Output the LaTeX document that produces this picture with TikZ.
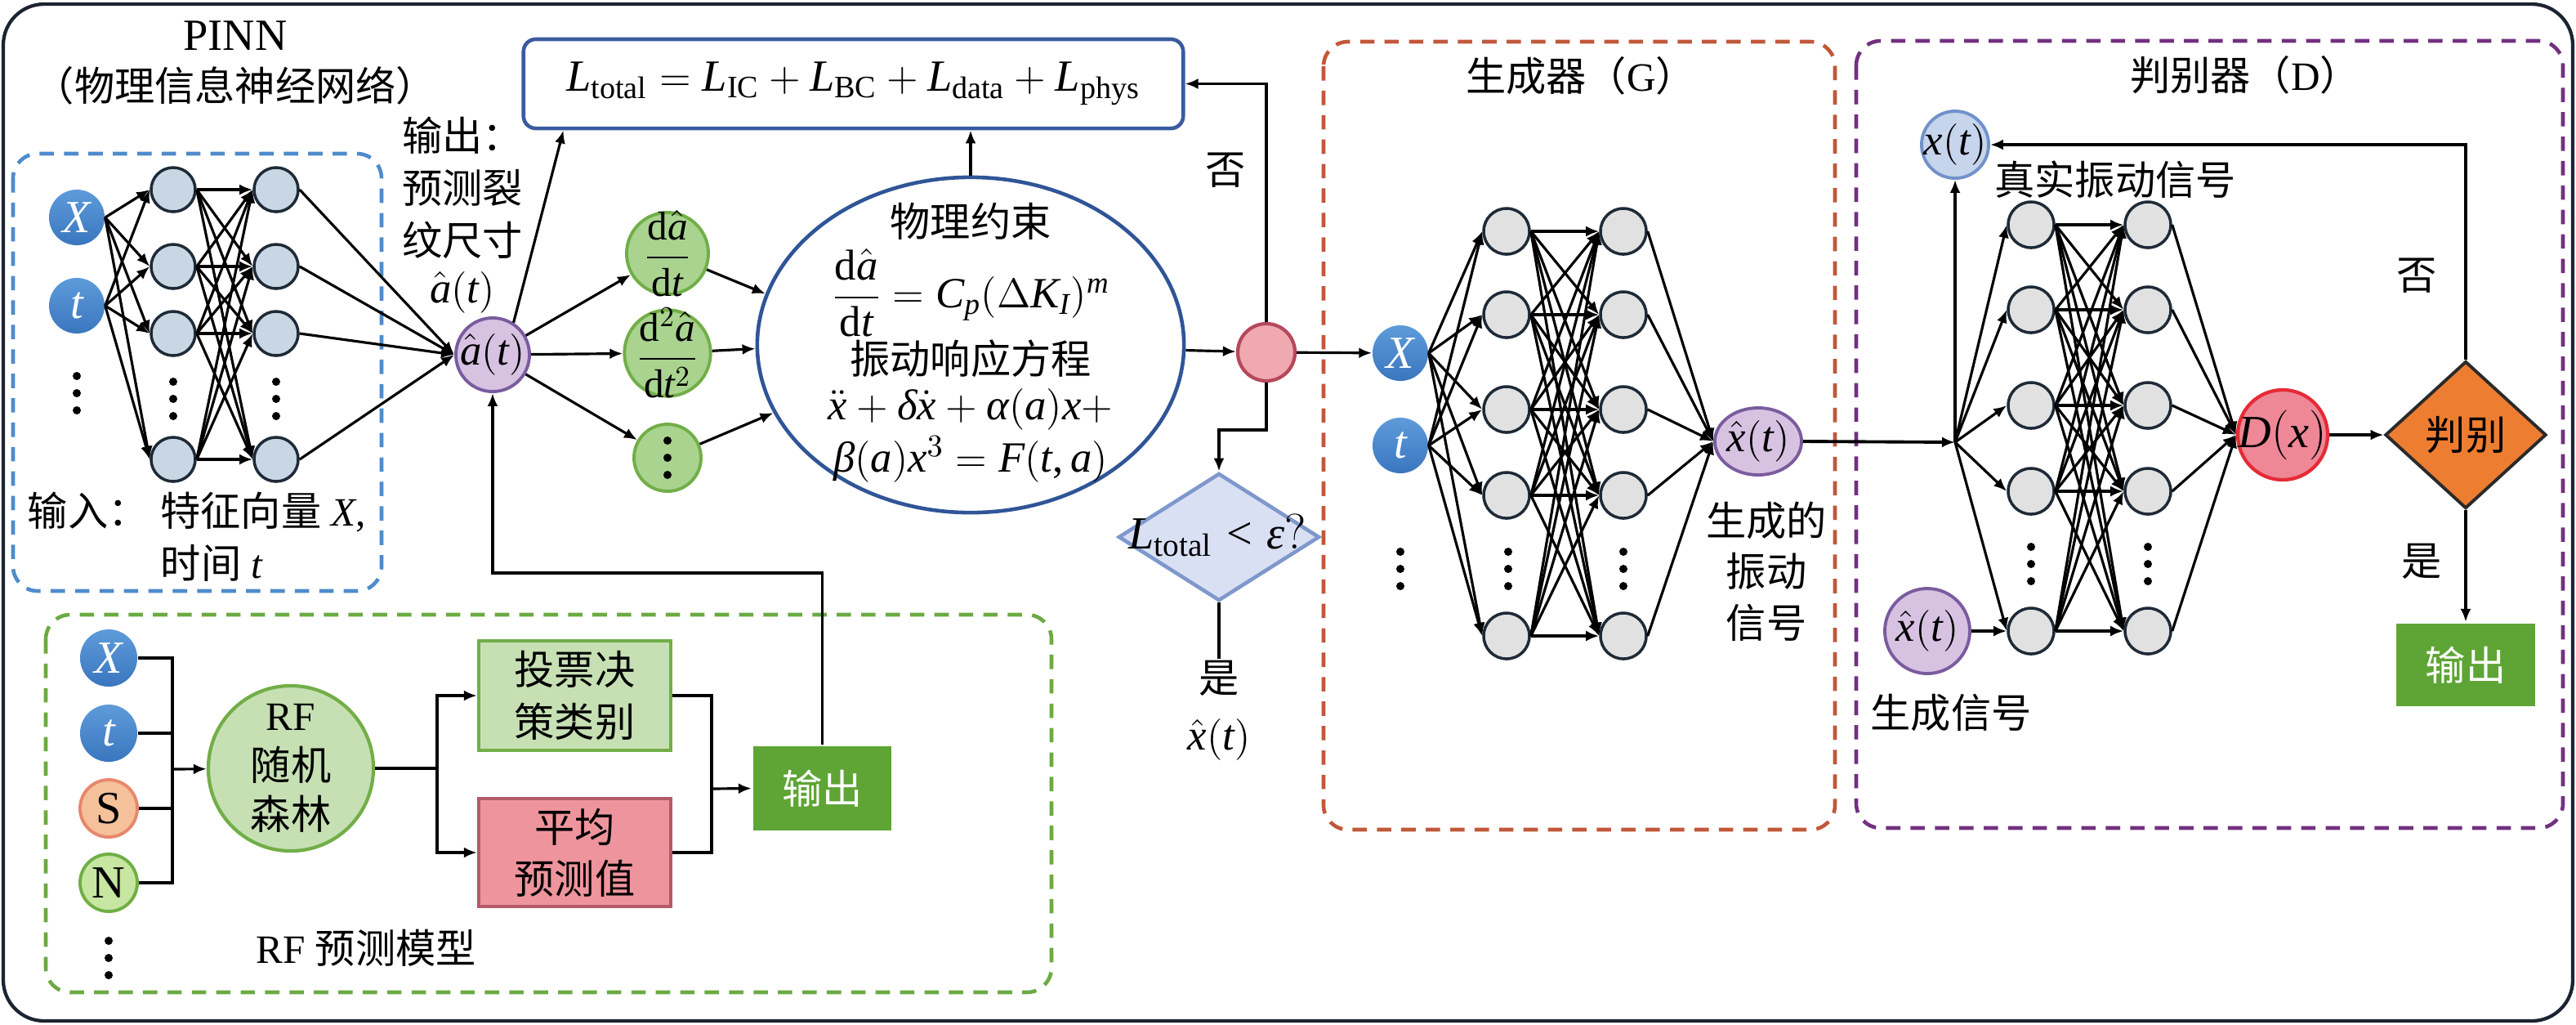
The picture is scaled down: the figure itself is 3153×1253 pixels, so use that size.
\documentclass[tikz,border=0pt]{standalone}
\usepackage{amsmath}
\usepackage{fontspec}
\setmainfont{Liberation Serif}
\newfontfamily\cjk{Noto Sans CJK SC}
\DeclareSymbolFont{lsit}{TU}{\rmdefault}{m}{it}
\DeclareSymbolFont{lsup}{TU}{\rmdefault}{m}{n}
\newcommand\mathletter[1]{\DeclareMathSymbol{#1}{\mathalpha}{lsit}{`#1}}
\mathletter{a}\mathletter{t}\mathletter{x}\mathletter{m}\mathletter{p}
\mathletter{L}\mathletter{X}\mathletter{C}\mathletter{K}\mathletter{I}
\mathletter{F}\mathletter{D}
\DeclareMathSymbol{2}{\mathalpha}{lsup}{`2}
\DeclareMathSymbol{3}{\mathalpha}{lsup}{`3}
\DeclareMathSymbol{(}{\mathopen}{lsup}{`(}
\DeclareMathSymbol{)}{\mathclose}{lsup}{`)}
\DeclareMathSymbol{+}{\mathbin}{lsup}{`+}
\DeclareMathSymbol{=}{\mathrel}{lsup}{`=}
\DeclareMathSymbol{<}{\mathrel}{lsup}{`<}
\DeclareMathSymbol{,}{\mathpunct}{lsup}{`,}
\DeclareMathSymbol{?}{\mathclose}{lsup}{`?}
\Umathchardef\alpha="0 \symlsit "03B1
\Umathchardef\beta="0 \symlsit "03B2
\Umathchardef\delta="0 \symlsit "03B4
\Umathchardef\varepsilon="0 \symlsit "03B5
\Umathchardef\Delta="0 \symlsup "0394
\usetikzlibrary{arrows.meta,shapes.geometric,calc}
\definecolor{inbluetop}{HTML}{5E9BDA}
\definecolor{inbluebot}{HTML}{3A76BE}
\definecolor{hidpinn}{HTML}{C9D7E5}
\definecolor{hidborder}{HTML}{1F2A37}
\definecolor{hidgray}{HTML}{E1E1E1}
\definecolor{purpfill}{HTML}{D7C2E2}
\definecolor{purpdraw}{HTML}{7A5C9E}
\definecolor{dgfill}{HTML}{A9D38F}
\definecolor{dgdraw}{HTML}{72AE48}
\definecolor{pinkfill}{HTML}{F0A8B1}
\definecolor{pinkdraw}{HTML}{B5485B}
\definecolor{diafill}{HTML}{DAE0F3}
\definecolor{diadraw}{HTML}{7E98CC}
\definecolor{rffill}{HTML}{C6E0B4}
\definecolor{rfdraw}{HTML}{72AE48}
\definecolor{meanfill}{HTML}{EE949D}
\definecolor{meandraw}{HTML}{B35B69}
\definecolor{outgreen}{HTML}{5EA535}
\definecolor{sfill}{HTML}{F4C19B}
\definecolor{sdraw}{HTML}{E8876B}
\definecolor{nfill}{HTML}{C6E6A2}
\definecolor{ndraw}{HTML}{6FAF45}
\definecolor{bluedash}{HTML}{4E8BCB}
\definecolor{greendash}{HTML}{6BAA43}
\definecolor{reddash}{HTML}{C0583A}
\definecolor{purpdash}{HTML}{72307F}
\definecolor{ltotdraw}{HTML}{3B5BA0}
\definecolor{physdraw}{HTML}{2F5597}
\definecolor{xtfill}{HTML}{C6D4EC}
\definecolor{xtdraw}{HTML}{7191CA}
\definecolor{dxfill}{HTML}{EE8796}
\definecolor{dxdraw}{HTML}{E52B36}
\definecolor{orangefill}{HTML}{ED7D31}
\definecolor{orangedraw}{HTML}{2A2A2A}
\definecolor{framecol}{HTML}{1C2433}
\newcommand\threedots[2]{%
  \fill (#1,#2-21) circle [radius=0.05cm];
  \fill (#1,#2) circle [radius=0.05cm];
  \fill (#1,#2+21) circle [radius=0.05cm];}
\begin{document}
\begin{tikzpicture}[x=0.01cm,y=-0.01cm,
  every node/.style={font=\fontsize{14}{17}\selectfont, inner sep=0.5pt},
  arr/.style={-{Latex[length=1.6mm,width=1.3mm]}, line width=0.9pt},
  ln/.style={line width=0.9pt},
  dashbox/.style={line width=1.3pt, dash pattern=on 5pt off 3.5pt, rounded corners=0.3cm},
  hidA/.style={circle, draw=hidborder, fill=hidpinn, line width=1pt, minimum size=0.54cm, inner sep=0pt},
  hidB/.style={circle, draw=hidborder, fill=hidgray, line width=1pt, minimum size=0.56cm, inner sep=0pt},
  inp/.style={circle, top color=inbluetop, bottom color=inbluebot, draw=none, text=white, inner sep=0pt, font=\fontsize{16}{17}\selectfont},
  purp/.style={circle, draw=purpdraw, fill=purpfill, line width=1.1pt, inner sep=-2pt, font=\fontsize{15}{17}\selectfont},
  der/.style={circle, draw=dgdraw, fill=dgfill, line width=1.1pt, inner sep=-3pt, minimum size=1.0cm, font=\fontsize{14}{15}\selectfont},
  boxn/.style={rectangle, inner sep=0pt, line width=1.2pt, align=center, font=\fontsize{14}{18}\selectfont},
  mth/.style={font=\fontsize{15}{17}\selectfont},
]
\useasboundingbox (0,0) rectangle (3153,1253);
\draw[framecol, line width=1.2pt, rounded corners=0.5cm] (4,5) rectangle (3149,1249);

% dashed group frames
\draw[dashbox, bluedash] (16,188) rectangle (467,723);
\draw[dashbox, greendash] (56,752) rectangle (1287,1214);
\draw[dashbox, reddash] (1620,51) rectangle (2246,1015);
\draw[dashbox, purpdash] (2272,50) rectangle (3137,1013);

% ---------------- PINN ----------------
\node (pinn) at (288,44) {\fontsize{15.5}{17}\selectfont PINN};
\node (pinnzh) at (288,105) {\cjk （物理信息神经网络）};
\node[inp, minimum size=0.68cm] (X1) at (94,266) {$X$};
\node[inp, minimum size=0.68cm] (T1) at (94,374) {$t$};
\threedots{94}{481}
\foreach \n/\y in {a/232,b/326,c/408,d/562}{
  \node[hidA] (P1\n) at (212,\y) {};
  \node[hidA] (P2\n) at (338,\y) {};}
\threedots{212}{488}
\threedots{338}{488}
\node[purp, minimum size=0.9cm] (ahat) at (603,434) {$\hat{a}(t)$};
\foreach \n in {a,b,c,d}{
  \draw[arr] (X1.east) -- (P1\n.west);
  \draw[arr] (T1.east) -- (P1\n.west);
  \draw[arr] (P2\n.east) -- (ahat.west);
  \foreach \m in {a,b,c,d} \draw[arr] (P1\n.east) -- (P2\m.west);}
\node (inlab) at (241,627) {{\cjk 输入：}\hspace{0.3em}{\cjk 特征向量} $X$,};
\node (inlab2) at (259,689) {{\cjk 时间} $t$};
\node (o1) at (566,166) {\cjk 输出：};
\node (o2) at (566,230) {\cjk 预测裂};
\node (o3) at (566,294) {\cjk 纹尺寸};
\node[mth] (o4) at (566,358) {$\hat{a}(t)$};

% ---------------- loss & physics ----------------
\node[draw=ltotdraw, line width=1.3pt, rounded corners=0.15cm, minimum width=8.07cm, minimum height=1.09cm, font=\fontsize{15.5}{17}\selectfont] (Ltot) at (1044.5,102.5) {$L_{\mathrm{total}} = L_{\mathrm{IC}} + L_{\mathrm{BC}} + L_{\mathrm{data}} + L_{\mathrm{phys}}$};
\node[ellipse, draw=physdraw, line width=1.3pt, minimum width=5.22cm, minimum height=4.1cm, inner sep=0pt] (phys) at (1188,422) {};
\node (ph1) at (1188,271) {\cjk 物理约束};
\node[mth] (ph2) at (1188,358) {$\dfrac{\mathrm{d}\hat{a}}{\mathrm{d}t} = C_p(\Delta K_I)^m$};
\node (ph3) at (1188,439) {\cjk 振动响应方程};
\node[mth] (ph4) at (1188,501) {$\ddot{x}+\delta\dot{x}+\alpha(a)x+$};
\node[mth] (ph5) at (1188,562) {$\beta(a)x^3= F(t,a)$};
\node[der] (D1) at (817,310) {$\dfrac{\mathrm{d}\hat{a}}{\mathrm{d}t}$};
\node[der] (D2) at (817,432) {$\dfrac{\mathrm{d}^2\hat{a}}{\mathrm{d}t^2}$};
\node[der, minimum size=0.82cm, inner sep=0pt] (D3) at (817,560) {};
\threedots{817}{560}
\draw[arr] (ahat) -- (D1);
\draw[arr] (ahat) -- (D2);
\draw[arr] (ahat) -- (D3);
\draw[arr] (D1) -- (phys.166);
\draw[arr] (D2) -- (phys.181);
\draw[arr] (D3) -- (phys.199);
\draw[arr] (phys.north) -- (phys.north |- Ltot.south);
\draw[arr] (ahat.57) -- ($(Ltot.south west)!0.063!(Ltot.south east)$);

\node[circle, draw=pinkdraw, fill=pinkfill, line width=1.2pt, minimum size=0.7cm, inner sep=0pt] (pink) at (1550,431) {};
\draw[arr] (phys) -- (pink);
\draw[arr] (pink.north) |- (Ltot.east);
\node (no1) at (1500,208) {\cjk 否};
\node[diamond, draw=diadraw, fill=diafill, line width=1.3pt, minimum width=2.46cm, minimum height=1.56cm, inner sep=0pt] (dia) at (1492,657) {};
\node[font=\fontsize{16}{17}\selectfont] (diatext) at (1490,655) {$L_{\mathrm{total}} < \varepsilon?$};
\coordinate (pd) at (1492,526);
\draw[arr] (pink.south) |- (pd) -- (dia.north);
\node (yes1) at (1492,830) {\cjk 是};
\draw[ln] (dia.south) -- (yes1.north);
\node[mth] (xhat1) at (1492,905) {$\hat{x}(t)$};

% ---------------- RF ----------------
\node[inp, minimum size=0.7cm] (RX) at (133,805) {$X$};
\node[inp, minimum size=0.7cm] (RT) at (133,897) {$t$};
\node[circle, draw=sdraw, fill=sfill, line width=1.1pt, minimum size=0.7cm, inner sep=0pt, font=\fontsize{16}{17}\selectfont] (RS) at (133,989) {S};
\node[circle, draw=ndraw, fill=nfill, line width=1.1pt, minimum size=0.7cm, inner sep=0pt, font=\fontsize{16}{17}\selectfont] (RN) at (133,1080) {N};
\threedots{133}{1172}
\coordinate (bus) at (211,941);
\draw[ln] (RX.east) -| (bus |- RN.east) -- (RN.east);
\draw[ln] (RT.east) -- (RT.east -| bus);
\draw[ln] (RS.east) -- (RS.east -| bus);
\node[circle, draw=rfdraw, fill=rffill, line width=1.2pt, minimum size=2.02cm, inner sep=0pt, align=center, font=\fontsize{14}{17.3}\selectfont] (RF) at (356,940) {RF\\{\cjk 随机}\\{\cjk 森林}};
\draw[arr] (bus) -- (RF);
\coordinate (split) at (535,940);
\draw[ln] (RF.east) -- (split);
\node[boxn, draw=rfdraw, fill=rffill, minimum width=2.35cm, minimum height=1.34cm] (vote) at (703.5,851) {{\cjk 投票决}\\{\cjk 策类别}};
\node[boxn, draw=meandraw, fill=meanfill, minimum width=2.35cm, minimum height=1.32cm] (mean) at (703.5,1043) {{\cjk 平均}\\{\cjk 预测值}};
\draw[arr] (split) |- (vote.west);
\draw[arr] (split) |- (mean.west);
\coordinate (merge) at (871,965);
\draw[ln] (vote.east) -| (merge);
\draw[ln] (mean.east) -| (merge);
\node[boxn, fill=outgreen, text=white, minimum width=1.69cm, minimum height=1.03cm] (out1) at (1006.5,964.5) {\cjk 输出};
\draw[arr] (merge) -- (out1.west);
\coordinate (fb) at (1006,701);
\draw[arr] (out1.north) -- (out1.north |- fb) -| (ahat.south);
\node (rflab) at (448,1160) {RF {\cjk 预测模型}};

% ---------------- Generator ----------------
\node (gtitle) at (1935,93) {{\cjk 生成器（}G{\cjk ）}};
\node[inp, minimum size=0.68cm] (GX) at (1714,432) {$X$};
\node[inp, minimum size=0.68cm] (GT) at (1714,545) {$t$};
\threedots{1714}{696}
\foreach \n/\y in {a/283,b/385,c/501,d/606,e/778}{
  \node[hidB] (G1\n) at (1844,\y) {};
  \node[hidB] (G2\n) at (1987,\y) {};}
\threedots{1846}{696}
\threedots{1987}{696}
\node[ellipse, draw=purpdraw, fill=purpfill, line width=1.1pt, minimum width=1.06cm, minimum height=0.82cm, inner sep=-2pt, font=\fontsize{15}{17}\selectfont] (xg) at (2152,540) {$\hat{x}(t)$};
\foreach \n in {a,b,c,d,e}{
  \draw[arr] (GX.east) -- (G1\n.west);
  \draw[arr] (GT.east) -- (G1\n.west);
  \draw[arr] (G2\n.east) -- (xg.west);
  \foreach \m in {a,b,c,d,e} \draw[arr] (G1\n.east) -- (G2\m.west);}
\draw[arr] (pink) -- (GX);
\node (gl1) at (2162,637) {\cjk 生成的};
\node (gl2) at (2162,699) {\cjk 振动};
\node (gl3) at (2162,762) {\cjk 信号};

% ---------------- Discriminator ----------------
\node (dtitle) at (2748,92) {{\cjk 判别器（}D{\cjk ）}};
\coordinate (J) at (2393,541);
\draw[arr, line width=1.1pt] (xg.east) -- (J);
\node[circle, draw=xtdraw, fill=xtfill, line width=1.1pt, minimum size=0.82cm, inner sep=-2pt, font=\fontsize{15}{17}\selectfont] (xt) at (2393,177) {$x(t)$};
\draw[arr] (J) -- (xt.south);
\node (real) at (2589,220) {\cjk 真实振动信号};
\foreach \n/\y in {a/275,b/379,c/496,d/601,e/772}{
  \node[hidB] (H1\n) at (2486,\y) {};
  \node[hidB] (H2\n) at (2629,\y) {};}
\threedots{2486}{690}
\threedots{2629}{690}
\node[circle, draw=dxdraw, fill=dxfill, line width=1.2pt, minimum size=1.1cm, inner sep=-2pt, font=\fontsize{16}{17}\selectfont] (Dx) at (2794,532) {$D(x)$};
\node[purp, minimum size=1.04cm] (xd) at (2359,772) {$\hat{x}(t)$};
\node (genlab) at (2388,872) {\cjk 生成信号};
\foreach \n in {a,b,c,d,e}{
  \draw[arr] (J) -- (H1\n.west);
  \draw[arr] (H2\n.east) -- (Dx.west);
  \foreach \m in {a,b,c,d,e} \draw[arr] (H1\n.east) -- (H2\m.west);}
\draw[arr] (xd) -- (H1e.west);
\node[diamond, draw=orangedraw, fill=orangefill, line width=1.1pt, minimum width=1.97cm, minimum height=1.8cm, inner sep=0pt] (judge) at (3018,532) {};
\node (judget) at (3018,532) {\cjk 判别};
\draw[arr] (Dx) -- (judge.west);
\draw[arr] (judge.north) |- (xt.east);
\node (no2) at (2958,337) {\cjk 否};
\node (yes2) at (2964,687) {\cjk 是};
\node[boxn, fill=outgreen, text=white, minimum width=1.7cm, minimum height=1.01cm] (out2) at (3018,813.5) {\cjk 输出};
\draw[arr] (judge.south) -- (out2.north);
\end{tikzpicture}
\end{document}
